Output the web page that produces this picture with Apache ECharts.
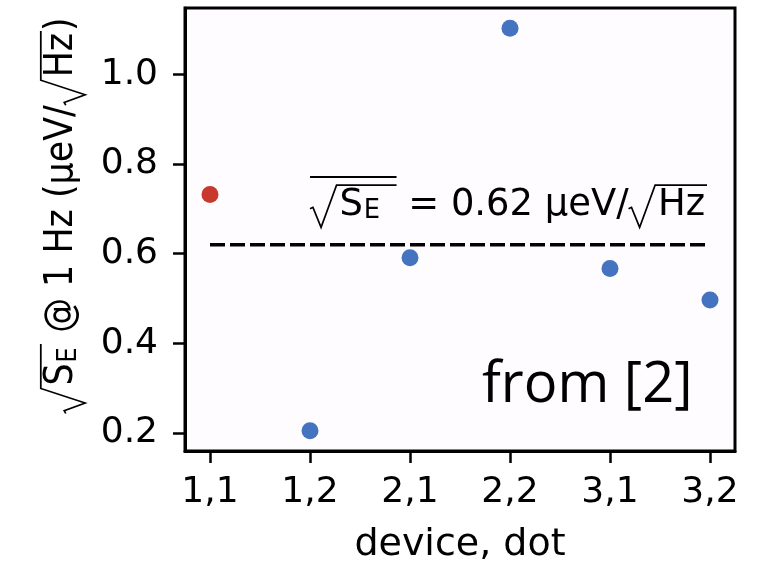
<!DOCTYPE html>
<html>
<head>
<meta charset="utf-8">
<script src="https://cdn.jsdelivr.net/npm/echarts@6/dist/echarts.min.js"></script>
<style>
  html, body { margin: 0; padding: 0; background: #ffffff; }
  #chart { width: 757px; height: 561px; }
</style>
</head>
<body>
<div id="chart"></div>
<script>
// Charge-noise amplitude per quantum dot, evaluated at 1 Hz
const categories = ['1,1', '1,2', '2,1', '2,2', '3,1', '3,2'];
const noiseLevels = [0.732, 0.205, 0.591, 1.103, 0.567, 0.497];
const highlightedDot = '1,1';
const meanNoise = 0.62;
const yTickValues = [0.2, 0.4, 0.6, 0.8, 1.0];
const sourceNote = 'from [2]';

const BLUE = '#4473bf';
const RED = '#c8382c';
const MATH_FONT = '"DejaVu Sans"';

const chart = echarts.init(document.getElementById('chart'), null, { renderer: 'canvas' });

// ---- small text-layout helpers for radicals, overlines and subscripts ----
const mctx = document.createElement('canvas').getContext('2d');
function textWidth(s, size, family) {
  mctx.font = size + 'px ' + (family || MATH_FONT);
  return mctx.measureText(s).width;
}
function middleToBaseline(size, family) {
  mctx.font = size + 'px ' + (family || MATH_FONT);
  mctx.textBaseline = 'middle';
  const d = mctx.measureText('H').actualBoundingBoxDescent;
  mctx.textBaseline = 'alphabetic';
  return d;
}
function textEl(str, x, baseline, size, family) {
  return {
    type: 'text',
    x: x,
    y: baseline - middleToBaseline(size, family),
    style: {
      text: str,
      font: size + 'px ' + (family || MATH_FONT),
      fill: '#000',
      align: 'left',
      verticalAlign: 'middle'
    }
  };
}
function strokeEl(points, lw) {
  return {
    type: 'polyline',
    shape: { points: points },
    style: { stroke: '#000', lineWidth: lw, fill: null, lineJoin: 'miter' }
  };
}
// tokens: plain strings, {sub}, {root, pad}, {bar}
function layoutMath(tokens, size, x0) {
  let x = x0;
  const els = [];
  for (const tok of tokens) {
    if (typeof tok === 'string') {
      els.push(textEl(tok, x, 0, size));
      x += textWidth(tok, size);
    } else if (tok.sub !== undefined) {
      const s = size * 0.7;
      els.push(textEl(tok.sub, x + 0.02 * size, 0.1 * size, s));
      x += textWidth(tok.sub, s) + 0.02 * size;
    } else if (tok.root) {
      const rw = 0.8 * size;
      const inner = layoutMath(tok.root, size, x + rw);
      const end = inner.end + (tok.pad || 0.08) * size;
      const topY = -0.8 * size;
      els.push(strokeEl([
        [x, -0.16 * size],
        [x + 0.08 * size, -0.2 * size],
        [x + 0.3 * size, 0.34 * size],
        [x + 0.72 * size, topY],
        [end, topY]
      ], size * 0.045));
      els.push(...inner.els);
      x = end;
    } else if (tok.bar) {
      const inner = layoutMath(tok.bar, size, x);
      const y = -1.02 * size;
      els.push(strokeEl([[x, y], [inner.end, y]], size * 0.05));
      els.push(...inner.els);
      x = inner.end;
    }
  }
  return { els: els, end: x, width: x - x0 };
}

const scatterData = noiseLevels.map((v, i) => ({
  value: [i, v],
  itemStyle: { color: categories[i] === highlightedDot ? RED : BLUE, opacity: 1 }
}));
const catIndex = categories.map((c, i) => i);

const option = {
  animation: false,
  backgroundColor: '#ffffff',
  grid: {
    left: 185, right: 22, top: 8, bottom: 110,
    containLabel: false, outerBoundsMode: 'none',
    show: true, backgroundColor: '#fefcfe', borderColor: '#000', borderWidth: 3
  },
  xAxis: {
    type: 'value',
    min: -0.25, max: 5.25,
    axisLine: { show: true, onZero: false, lineStyle: { color: '#000', width: 3 } },
    axisTick: { show: true, length: 12, customValues: catIndex, lineStyle: { color: '#000', width: 2.5 } },
    axisLabel: {
      customValues: catIndex,
      formatter: (v) => categories[Math.round(v)],
      fontFamily: MATH_FONT, fontSize: 36, color: '#000', margin: 24
    },
    splitLine: { show: false },
    name: 'device, dot', nameLocation: 'middle', nameGap: 75,
    nameTextStyle: { fontFamily: MATH_FONT, fontSize: 38, color: '#000' }
  },
  yAxis: {
    type: 'value',
    min: 0.16, max: 1.148,
    axisLine: { show: true, onZero: false, lineStyle: { color: '#000', width: 3 } },
    axisTick: { show: true, length: 12, customValues: yTickValues, lineStyle: { color: '#000', width: 2.5 } },
    axisLabel: {
      customValues: yTickValues,
      formatter: (v) => v.toFixed(1),
      fontFamily: MATH_FONT, fontSize: 36, color: '#000', margin: 27
    },
    splitLine: { show: false }
  },
  series: [
    {
      type: 'line',
      data: [[0, meanNoise], [categories.length - 1, meanNoise]],
      symbol: 'none',
      lineStyle: { color: '#000', width: 3.5, type: [15, 5] },
      z: 2
    },
    {
      type: 'scatter',
      data: scatterData,
      symbolSize: 17,
      z: 3
    }
  ]
};
chart.setOption(option);

// ---- annotations placed relative to the axes ----
const meanPx = chart.convertToPixel({ gridIndex: 0 }, [1, meanNoise]);
const annSize = 37;
const ann = layoutMath(
  [{ bar: [{ root: ['S', { sub: 'E' }], pad: 0.45 }] }, ' = ' + meanNoise.toFixed(2) + ' μeV/', { root: ['Hz'], pad: 0.05 }],
  annSize, 0
);
const ylabSize = 39;
const ylab = layoutMath(
  [{ root: ['S', { sub: 'E' }], pad: 0.1 }, ' @ 1 Hz (μeV/', { root: ['Hz'], pad: 0.05 }, ')'],
  ylabSize, 0
);
const ylabLength = 396;
const ylabScale = ylabLength / ylab.width;
const annLength = 397;
const annScale = annLength / ann.width;

const gridTop = chart.convertToPixel({ gridIndex: 0 }, [0, 1.148])[1];
const gridBottom = chart.convertToPixel({ gridIndex: 0 }, [0, 0.16])[1];
const gridLeft = chart.convertToPixel({ gridIndex: 0 }, [-0.25, 0])[0];
const yMid = (gridTop + gridBottom) / 2 - 14;

chart.setOption({
  graphic: [
    { type: 'group', x: meanPx[0], y: meanPx[1] - 30, scaleX: annScale, children: ann.els, z: 10 },
    { type: 'group', x: gridLeft - 113, y: yMid + ylabLength / 2, rotation: Math.PI / 2, scaleX: ylabScale, children: ylab.els, z: 10 },
    {
      type: 'text', z: 10,
      x: gridLeft + 297,
      y: 402 - middleToBaseline(56, '"Open Sans"'),
      style: { text: sourceNote, font: '56px "Open Sans"', fill: '#000', align: 'left', verticalAlign: 'middle' }
    }
  ]
});
</script>
</body>
</html>
